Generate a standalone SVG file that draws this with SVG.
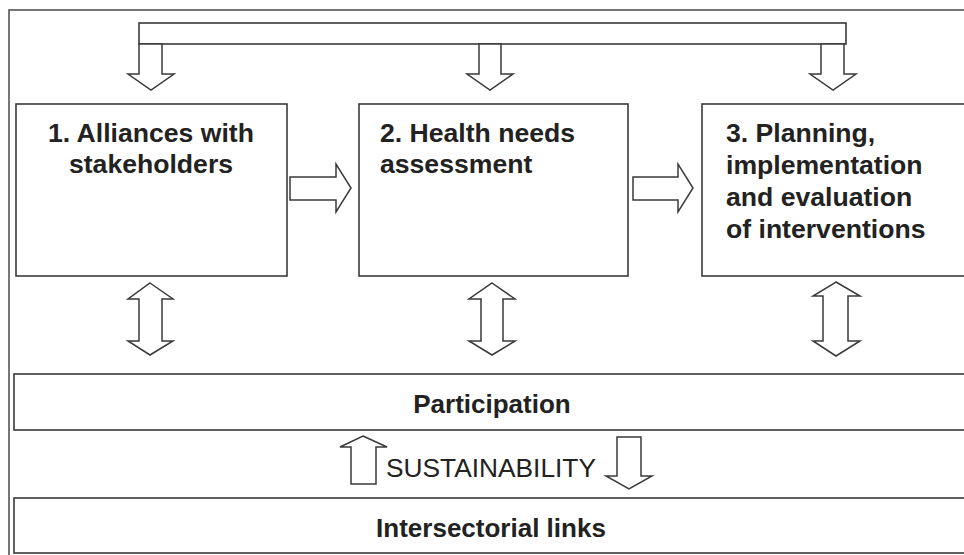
<svg xmlns="http://www.w3.org/2000/svg" width="964" height="555" viewBox="0 0 964 555">
<style>
.box{fill:#fff;stroke:#3a3a3a;stroke-width:1.6}
.arr{fill:#fff;stroke:#3a3a3a;stroke-width:1.5;stroke-linejoin:miter}
.t{font-family:"Liberation Sans",Arial,sans-serif;font-weight:bold;font-size:26px;fill:#222}
.b{font-size:26.6px}
.s{font-family:"Liberation Sans",Arial,sans-serif;font-size:26.3px;fill:#222}
</style>
<rect width="964" height="555" fill="#fff"/>
<rect id="frame" x="9" y="10" width="1000" height="600" fill="none" stroke="#555" stroke-width="1.6"/>
<g id="topbar"><rect class="box" x="139" y="23" width="707" height="21"/></g>
<g id="n1"><rect class="box" x="16" y="104" width="271" height="172"/>
<text class="t b" x="151" y="142" text-anchor="middle">1. Alliances with</text>
<text class="t b" x="151" y="173" text-anchor="middle">stakeholders</text></g>
<g id="n2"><rect class="box" x="359" y="104" width="269" height="172"/>
<text class="t b" x="380" y="142">2. Health needs</text>
<text class="t b" x="380" y="173">assessment</text></g>
<g id="n3"><rect class="box" x="702" y="104" width="320" height="172"/>
<text class="t b" x="726" y="142">3. Planning,</text>
<text class="t b" x="726" y="174">implementation</text>
<text class="t b" x="726" y="206">and evaluation</text>
<text class="t b" x="726" y="238">of interventions</text></g>
<g id="participation"><rect class="box" x="14" y="374" width="1000" height="56"/>
<text class="t" x="492" y="413" text-anchor="middle">Participation</text></g>
<g id="intersectorial"><rect class="box" x="14" y="498" width="1000" height="55"/>
<text class="t" x="491" y="537" text-anchor="middle">Intersectorial links</text></g>
<g id="connectors">
<polygon class="arr" points="139,44 139,74 128,74 151,90 174,74 162,74 162,44"/>
<polygon class="arr" points="479,44 479,74 467,74 490,90 513,74 501,74 501,44"/>
<polygon class="arr" points="821,44 821,74 810,74 833,90 856,74 844,74 844,44"/>
<polygon class="arr" points="290,177 336,177 336,164 351,188 336,212 336,200 290,200"/>
<polygon class="arr" points="633,177 678,177 678,164 693,188 678,212 678,200 633,200"/>
<polygon class="arr" points="150,283 173,299 162,299 162,341 173,341 150,355 128,341 139,341 139,299 128,299"/>
<polygon class="arr" points="492,283 515,299 503,299 503,341 515,341 492,355 469,341 481,341 481,299 469,299"/>
<polygon class="arr" points="836,282 860,296 848,296 848,341 860,341 836,356 813,341 823,341 823,296 813,296"/>
<polygon class="arr" points="363,436 387,447 376,447 376,484 351,484 351,447 340,447"/>
<polygon class="arr" points="617,437 641,437 641,476 652,476 629,489 606,476 617,476"/>
</g>
<text id="sustainability" class="s" x="386" y="477">SUSTAINABILITY</text>
</svg>
